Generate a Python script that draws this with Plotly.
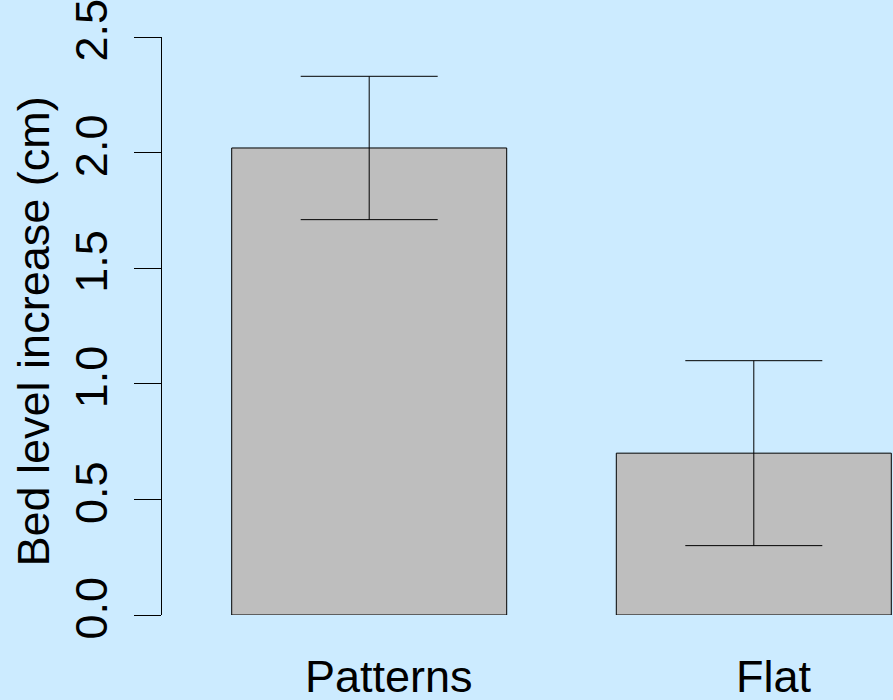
import plotly.graph_objects as go

# Mean bed level increase per treatment, with error bar half-lengths
categories = ["Patterns", "Flat"]
means = [2.02, 0.70]
errors = [0.31, 0.40]
y_ticks = [0.0, 0.5, 1.0, 1.5, 2.0, 2.5]
y_tick_labels = ["0.0", "0.5", "1.0", "1.5", "2.0", "2.5"]

BG = "#CCEBFF"
FONT = "Liberation Sans, Arial, Helvetica, sans-serif"

positions = list(range(len(categories)))

fig = go.Figure()
fig.add_trace(
    go.Bar(
        x=positions,
        y=means,
        width=0.715,
        marker=dict(color="#BEBEBE", line=dict(color="black", width=1)),
        error_y=dict(
            type="data",
            array=errors,
            visible=True,
            color="black",
            thickness=1,
            width=68.5,
        ),
        showlegend=False,
        hoverinfo="skip",
    )
)

# Category labels under the bars
for pos, name in zip(positions, categories):
    fig.add_annotation(
        x=pos,
        y=0,
        xref="x",
        yref="paper",
        yanchor="top",
        yshift=-34,
        xshift=20,
        text=name,
        showarrow=False,
        font=dict(family=FONT, size=45, color="black"),
    )

# Y axis title, rotated
fig.add_annotation(
    x=0,
    y=0.5,
    xref="paper",
    yref="paper",
    xshift=-129,
    yshift=-5.5,
    xanchor="center",
    yanchor="middle",
    textangle=-90,
    text="Bed level increase (cm)",
    showarrow=False,
    font=dict(family=FONT, size=45, color="black"),
)

fig.update_layout(
    width=893,
    height=700,
    margin=dict(l=162, r=0, t=37, b=85),
    paper_bgcolor=BG,
    plot_bgcolor=BG,
    font=dict(family=FONT, size=45, color="black"),
    xaxis=dict(
        range=[-0.5387, 1.3619],
        showticklabels=False,
        showgrid=False,
        zeroline=False,
        showline=False,
        ticks="",
    ),
    yaxis=dict(
        range=[0, 2.5],
        tickvals=y_ticks,
        ticktext=y_tick_labels,
        tickangle=-90,
        ticks="outside",
        ticklen=27,
        tickwidth=1,
        tickcolor="black",
        showline=True,
        linecolor="black",
        linewidth=1,
        showgrid=False,
        zeroline=False,
        tickfont=dict(family=FONT, size=45, color="black"),
        ticklabelstandoff=9,
        ticklabeloverflow="allow",
    ),
)

fig.write_html("out.html")
